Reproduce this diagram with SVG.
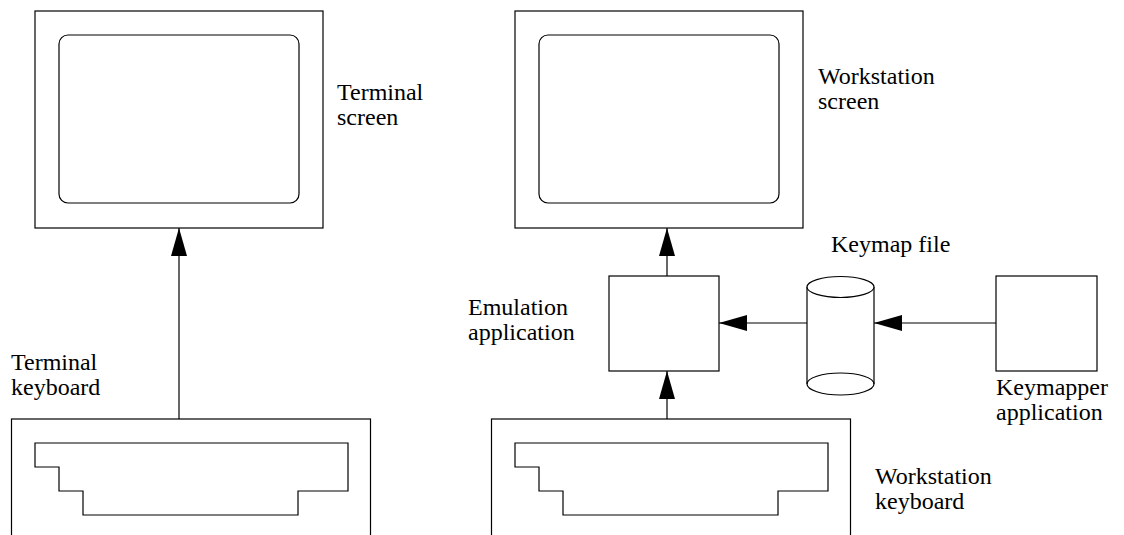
<svg xmlns="http://www.w3.org/2000/svg" width="1124" height="535" viewBox="0 0 1124 535">
<style>
.s{fill:#fff;stroke:#000;stroke-width:1.2}
.n{fill:none;stroke:#000;stroke-width:1.2}
.c{stroke:#000;stroke-width:1.2;fill:none}
</style>
<defs>
<marker id="ah" viewBox="0 0 28 16" refX="28" refY="8" markerWidth="28" markerHeight="16" markerUnits="userSpaceOnUse" orient="auto">
<path d="M0,0 L28,8 L0,16 Z" fill="#000"/>
</marker>
</defs>
<rect width="1124" height="535" fill="#fff"/>
<g font-family="Liberation Serif, Times New Roman, Tinos, DejaVu Serif, serif" font-size="24" fill="#000">
<g id="terminal-screen">
<rect class="s" x="35" y="11" width="288" height="217"/>
<rect class="n" x="59" y="35" width="240" height="168" rx="9"/>
<text x="337" y="100">Terminal</text>
<text x="337" y="125">screen</text>
</g>
<g id="workstation-screen">
<rect class="s" x="515" y="11" width="288" height="217"/>
<rect class="n" x="539" y="35" width="240" height="168" rx="9"/>
<text x="818" y="84">Workstation</text>
<text x="818" y="109">screen</text>
</g>
<g id="terminal-keyboard">
<rect class="s" x="11.5" y="419" width="359" height="130"/>
<path class="n" d="M35,443 H348 V491 H298 V515 H83 V491 H59 V467 H35 Z"/>
<text x="11" y="370">Terminal</text>
<text x="11" y="395">keyboard</text>
</g>
<g id="workstation-keyboard">
<rect class="s" x="491.5" y="419" width="359" height="130"/>
<path class="n" d="M515,443 H828 V491 H778 V515 H563 V491 H539 V467 H515 Z"/>
<text x="875" y="484">Workstation</text>
<text x="875" y="509">keyboard</text>
</g>
<g id="emulation-application">
<rect class="s" x="609" y="276" width="110" height="95"/>
<text x="468" y="315">Emulation</text>
<text x="468" y="340">application</text>
</g>
<g id="keymap-file">
<path class="s" d="M807,287 V384 A33.5,11 0 0 0 874,384 V287"/>
<ellipse class="s" cx="840.5" cy="287" rx="33.5" ry="10.5"/>
<path class="n" d="M807,384 A33.5,11 0 0 1 874,384"/>
<text x="831" y="252">Keymap file</text>
</g>
<g id="keymapper-application">
<rect class="s" x="996" y="276" width="101" height="95"/>
<text x="996" y="395">Keymapper</text>
<text x="996" y="420">application</text>
</g>
</g>
<g id="connectors">
<line class="c" x1="179" y1="419" x2="179" y2="228" marker-end="url(#ah)"/>
<line class="c" x1="667" y1="276" x2="667" y2="228" marker-end="url(#ah)"/>
<line class="c" x1="667" y1="419" x2="667" y2="371" marker-end="url(#ah)"/>
<line class="c" x1="807" y1="323" x2="719" y2="323" marker-end="url(#ah)"/>
<line class="c" x1="996" y1="323" x2="874" y2="323" marker-end="url(#ah)"/>
</g>
</svg>
